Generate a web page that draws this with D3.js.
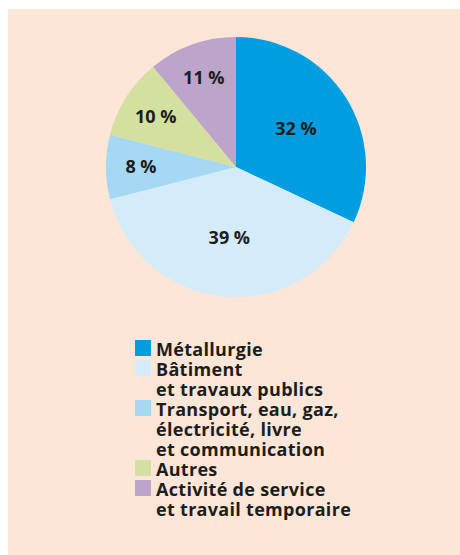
<!DOCTYPE html>
<html>
<head>
<meta charset="utf-8">
<script src="https://cdn.jsdelivr.net/npm/d3@7"></script>
<style>
  body { margin: 0; background: #fff; }
  svg { display: block; }
  text { font-family: "Open Sans", Lato, sans-serif; font-weight: 700; fill: #1d1d1b; }
</style>
</head>
<body>
<svg width="460" height="555"></svg>
<script>
// sectors, clockwise from 12 o'clock
const sectors = [
    "Métallurgie",
    "Bâtiment et travaux publics",
    "Transport, eau, gaz, électricité, livre et communication",
    "Autres",
    "Activité de service et travail temporaire"
];
const shares = [32, 39, 8, 10, 11];
const colors = ["#009ee0", "#d4ebf9", "#a5d9f3", "#d3e09f", "#bda4cb"];
// legend text, broken into lines as in the print
const legendLines = [
    ["Métallurgie"],
    ["Bâtiment", "et travaux publics"],
    ["Transport, eau, gaz,", "électricité, livre", "et communication"],
    ["Autres"],
    ["Activité de service", "et travail temporaire"]
];

const svg = d3.select("svg");

// peach panel
svg.append("rect")
    .attr("x", 8)
    .attr("y", 9)
    .attr("width", 452)
    .attr("height", 546)
    .attr("fill", "#fce6d8");

const cx = 236, cy = 167, r = 130;

const pie = d3.pie().sort(null).value(d => d);
const arcs = pie(shares);

const arc = d3.arc().innerRadius(0).outerRadius(r);
// small slices get their label pushed further out
const labelArc = d => {
    const rr = d.data < 15 ? 95 : 71;
    return d3.arc().innerRadius(rr).outerRadius(rr).centroid(d);
};

const g = svg.append("g").attr("transform", `translate(${cx},${cy})`);

g.selectAll("path")
    .data(arcs)
    .join("path")
    .attr("d", arc)
    .attr("fill", (d, i) => colors[i]);

g.selectAll("text")
    .data(arcs)
    .join("text")
    .attr("transform", d => `translate(${labelArc(d)})`)
    .attr("text-anchor", "middle")
    .attr("dy", "0.36em")
    .attr("font-size", 18)
    .text(d => d.data + " %");

// legend: 20px per line
const lineH = 20;
const x0 = 135, y0 = 355.5;
let line = 0;
const legend = svg.append("g");

legendLines.forEach((lines, i) => {
    const baseY = y0 + line * lineH;
    legend.append("rect")
        .attr("x", x0)
        .attr("y", baseY - 15.5)
        .attr("width", 16)
        .attr("height", 16)
        .attr("fill", colors[i]);
    const t = legend.append("text")
        .attr("x", x0 + 21)
        .attr("y", baseY)
        .attr("font-size", 18)
        .attr("letter-spacing", 0.3);
    t.selectAll("tspan")
        .data(lines)
        .join("tspan")
        .attr("x", x0 + 21)
        .attr("dy", (d, j) => j === 0 ? 0 : lineH)
        .text(d => d);
    line += lines.length;
});
</script>
</body>
</html>
